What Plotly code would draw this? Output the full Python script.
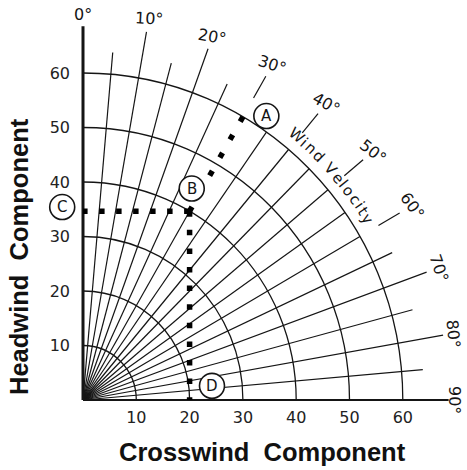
import math
import plotly.graph_objects as go

# ---------------------------------------------------------------- data
speed_rings = [10, 20, 30, 40, 50, 60]                 # wind velocity arcs (knots)
major_angles = [10, 20, 30, 40, 50, 60, 70, 80]        # long radial lines (deg)
minor_angles = [5, 15, 25, 35, 45, 55, 65, 75, 85]     # short radial lines (deg)
angle_ticks = [0, 10, 20, 30, 40, 50, 60, 70, 80, 90]
angle_tick_labels = ["0°", "10°", "20°", "30°", "40°", "50°", "60°", "70°", "80°", "90°"]
component_ticks = [10, 20, 30, 40, 50, 60]
component_tick_labels = ["10", "20", "30", "40", "50", "60"]

# worked example: 40 kt wind at 30° off the runway heading
example_angle = 30
example_speed = 40
chart_max_speed = 60

# ---------------------------------------------------------------- layout constants
W, H = 467, 470
ORIGIN_PX = (83, 400)
PX_X, PX_Y = 5.33, 5.45
R_MAJOR, R_MINOR = 68.6, 64.0
GAP_START, GAP_END = 30, 60          # sector where the caption sits outside the 60 kt arc
INK = "#151515"
TICK_FONT = dict(family="DejaVu Sans", size=16, color="#222")

x_range = [-ORIGIN_PX[0] / PX_X, (W - ORIGIN_PX[0]) / PX_X]
y_range = [-(H - ORIGIN_PX[1]) / PX_Y, ORIGIN_PX[1] / PX_Y]


def polar(r, deg):
    a = math.radians(deg)
    return r * math.sin(a), r * math.cos(a)


fig = go.Figure()

# radial lines from the origin
rx, ry = [], []


def seg(r0, r1, a):
    x0, y0 = polar(r0, a)
    x1, y1 = polar(r1, a)
    rx.extend([x0, x1, None])
    ry.extend([y0, y1, None])


for a in major_angles:
    if GAP_START <= a <= GAP_END:
        inner = example_speed if a == example_angle else chart_max_speed
        seg(0, inner, a)
        seg(R_MINOR, R_MAJOR, a)
    else:
        seg(0, R_MAJOR, a)
for a in minor_angles:
    seg(0, chart_max_speed if GAP_START < a < GAP_END else R_MINOR, a)

fig.add_trace(go.Scatter(x=rx, y=ry, mode="lines", line=dict(color=INK, width=1.2),
                         hoverinfo="skip", showlegend=False))

# speed arcs as quarter-circle Bezier paths
K = 0.5523
for r in speed_rings:
    fig.add_shape(type="path", xref="x", yref="y", layer="below",
                  path=f"M 0,{r} C {K*r},{r} {r},{K*r} {r},0",
                  line=dict(color=INK, width=1.3))

# headwind / crosswind axis lines
fig.add_trace(go.Scatter(x=[0, 0], y=[0, R_MAJOR], mode="lines",
                         line=dict(color=INK, width=3), hoverinfo="skip", showlegend=False))
fig.add_trace(go.Scatter(x=[0, R_MAJOR], y=[0, 0], mode="lines",
                         line=dict(color=INK, width=2), hoverinfo="skip", showlegend=False))

# worked example guides
ax_, ay_ = polar(chart_max_speed, example_angle)
bx, by = polar(example_speed, example_angle)
guides = [
    ([ax_, bx], [ay_, by], "5.5px,15.2px"),   # A -> B along the wind direction
    ([bx, 0], [by, by], "5.5px,11.5px"),      # B -> C headwind component
    ([bx, bx], [by, 0], "5.5px,13.1px"),      # B -> D crosswind component
]
for gx, gy, dash in guides:
    fig.add_trace(go.Scatter(x=gx, y=gy, mode="lines",
                             line=dict(color="#000", width=5.5, dash=dash),
                             hoverinfo="skip", showlegend=False))

# circled letters
letters = {"A": (34.4, 52.1), "B": (20.4, 38.8), "C": (-3.9, 35.4), "D": (24.2, 2.6)}
for name, (cx, cy) in letters.items():
    fig.add_shape(type="circle", xref="x", yref="y", layer="above",
                  xsizemode="pixel", ysizemode="pixel", xanchor=cx, yanchor=cy,
                  x0=-12.5, x1=12.5, y0=-12.5, y1=12.5,
                  fillcolor="white", line=dict(color=INK, width=1.6))
    fig.add_annotation(x=cx, y=cy, text=name, showarrow=False, xanchor="center",
                       yanchor="middle", font=dict(family="DejaVu Sans", size=15, color=INK))

# angle labels around the rim
label_rot = [0, 3, 10, 18, 29, 38, 54, 71, 85, 90]
label_r = [70.8, 71.0, 71.0, 71.0, 71.0, 71.0, 71.3, 71.0, 70.6, 69.8]
for a, txt, rot, rr in zip(angle_ticks, angle_tick_labels, label_rot, label_r):
    lx, ly = polar(rr, a)
    fig.add_annotation(x=lx, y=ly, text=txt, showarrow=False, textangle=rot,
                       xanchor="center", yanchor="middle",
                       font=dict(family="DejaVu Sans", size=16, color=INK))

# "Wind Velocity" set along the 60 kt arc
caption = "Wind Velocity"
em = {"W": 0.99, "i": 0.28, "n": 0.63, "d": 0.63, " ": 0.32, "V": 0.68, "e": 0.62,
      "l": 0.28, "o": 0.61, "c": 0.55, "t": 0.39, "y": 0.59}
cap_size, cap_track, cap_r, cap_start = 15, 1.6, 62.9, 38.2
cap_r_px = cap_r * (PX_X + PX_Y) / 2
pos = 0.0
for ch in caption:
    w = em[ch] * cap_size
    centre = pos + w / 2
    ang = cap_start + math.degrees(centre / cap_r_px)
    pos += w + cap_track
    if ch == " ":
        continue
    cx, cy = polar(cap_r, ang)
    fig.add_annotation(x=cx, y=cy, text=ch, showarrow=False, textangle=ang,
                       xanchor="center", yanchor="middle",
                       font=dict(family="DejaVu Sans", size=cap_size, color=INK))

# axis titles
title_font = dict(family="Liberation Sans", size=25.5, color="#111", weight="bold")
fig.add_annotation(xref="paper", yref="paper", x=262 / W, y=1 - 452 / H,
                   text="Crosswind  Component", showarrow=False, font=title_font,
                   xanchor="center", yanchor="middle")
fig.add_annotation(xref="paper", yref="paper", x=19 / W, y=1 - 257 / H,
                   text="Headwind  Component", showarrow=False, font=title_font,
                   textangle=-90, xanchor="center", yanchor="middle")

fig.update_layout(
    width=W, height=H, margin=dict(l=0, r=0, t=0, b=0),
    paper_bgcolor="white", plot_bgcolor="white", showlegend=False,
    xaxis=dict(range=x_range, anchor="free", position=(H - ORIGIN_PX[1]) / H,
               tickvals=component_ticks, ticktext=component_tick_labels,
               showgrid=False, zeroline=False, showline=False, ticks="",
               tickfont=TICK_FONT, ticklabelstandoff=6, fixedrange=True),
    yaxis=dict(range=y_range, anchor="free", position=ORIGIN_PX[0] / W,
               tickvals=component_ticks, ticktext=component_tick_labels,
               showgrid=False, zeroline=False, showline=False, ticks="",
               tickfont=TICK_FONT, ticklabelstandoff=13, fixedrange=True),
)

fig.write_html("out.html")
